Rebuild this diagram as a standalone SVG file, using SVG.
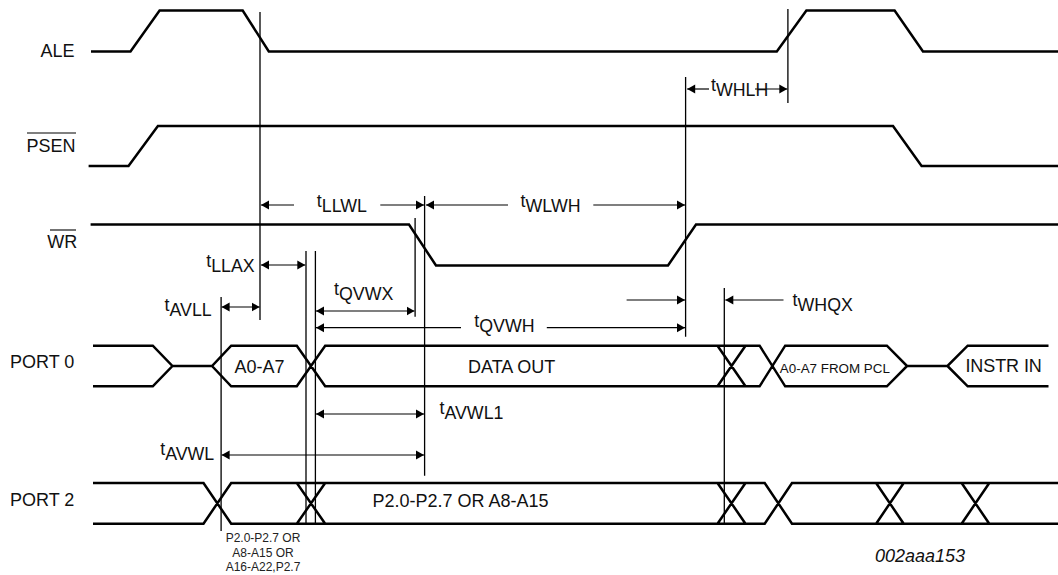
<svg xmlns="http://www.w3.org/2000/svg" width="1058" height="575" viewBox="0 0 1058 575">
<style>
text{font-family:"Liberation Sans",Arial,sans-serif;font-size:18px;fill:#111}
.t{font-size:17.800px}
.sig{fill:none;stroke:#000;stroke-width:2.500;stroke-linejoin:miter}
.v{stroke:#000;stroke-width:1.300;fill:none}
.a{stroke:#000;stroke-width:1.200;fill:none}
.ae{marker-end:url(#ah)}
.as{marker-start:url(#ahs)}
.o{stroke:#000;stroke-width:1.100}
.s{font-size:12px;fill:#222}
</style>
<defs>
<marker id="ah" markerUnits="userSpaceOnUse" markerWidth="9" markerHeight="10" refX="8" refY="5" orient="auto"><path d="M0 0.500L8 5L0 9.500z" fill="#000"/></marker>
<marker id="ahs" markerUnits="userSpaceOnUse" markerWidth="9" markerHeight="10" refX="0" refY="5" orient="auto"><path d="M8 0.500L0 5L8 9.500z" fill="#000"/></marker>
</defs>
<rect width="1058" height="575" fill="#fff"/>
<g id="sig-ale"><text x="40.600" y="56.500">ALE</text>
<path class="sig" d="M91 51.500H130.500L159.600 10.500H242.700L268.800 51.500H776.800L806.400 10.500H894.600L923 51.500H1058"/></g>
<g id="sig-psen"><text x="26.400" y="151.500">PSEN</text><path class="o" d="M27 133H76"/>
<path class="sig" d="M88.600 166H128.500L157.900 126H893L921.600 166H1058"/></g>
<g id="sig-wr"><text x="47.300" y="248">WR</text><path class="o" d="M50 230H76"/>
<path class="sig" d="M90.600 224.500H409L436 265.500H668L696 224.500H1058"/></g>
<g id="sig-port0"><text x="10" y="368.300">PORT 0</text>
<path class="sig" d="M93 345.700H152.800L172.400 366L152.800 386.300H93M172.400 366H212L231.200 345.700H296.800L325.200 386.300H759.600L785.200 345.700H886.900L907.100 366L886.900 386.300H785.200L759.600 345.700H325.200L296.800 386.300H231.200L212 366M907.100 366H947.500L967.700 345.700H1048.500M947.500 366L967.700 386.300H1048.500M717.500 345.700L745.500 386.300M717.500 386.300L745.500 345.700"/>
<text x="234.600" y="373">A0-A7</text><text x="468" y="372.700">DATA OUT</text><text x="779.800" y="372.700" style="font-size:13.400px">A0-A7 FROM PCL</text><text x="965.400" y="371.500" textLength="76.400" lengthAdjust="spacing">INSTR IN</text></g>
<g id="sig-port2"><text x="10" y="505.700">PORT 2</text>
<path class="sig" d="M93 483H203.500L231.200 523.700H764.700L792 483H1058M93 523.700H203.500L231.200 483H764.700L792 523.700H1058M296.800 483L325.200 523.700M296.800 523.700L325.200 483M717.500 483L745.500 523.700M717.500 523.700L745.500 483M876.100 483L903.700 523.700M876.100 523.700L903.700 483M961.600 483L989.300 523.700M961.600 523.700L989.300 483"/>
<text x="372.500" y="506.900">P2.0-P2.7 OR A8-A15</text>
<text class="s" x="263" y="542" text-anchor="middle">P2.0-P2.7 OR</text><text class="s" x="263" y="556.500" text-anchor="middle">A8-A15 OR</text><text class="s" x="263" y="571" text-anchor="middle">A16-A22,P2.7</text></g>
<g id="connectors">
<path class="v" d="M260 12V320M787.900 9V103M685.600 77V336.700M424.600 196V475.700M415.100 218V316.700M306 251V523M315.400 251V523M221.100 297V531M724.300 288V523"/>
<path class="a as" d="M261 205H294"/><path class="a ae" d="M380.300 205H424"/>
<path class="a as" d="M426 205H508"/><path class="a ae" d="M593.300 205H685"/>
<path class="a as" d="M687.200 89H709"/><path class="a ae" d="M755 89H787.300"/>
<path class="a as ae" d="M261 265H305.300"/>
<path class="a as ae" d="M221.600 307H259.600"/>
<path class="a as ae" d="M316 311H414.500"/>
<path class="a as" d="M316 327.700H461"/><path class="a ae" d="M546.800 327.700H685"/>
<path class="a ae" d="M626.600 300H685"/><path class="a as" d="M725.300 300H783.500"/>
<path class="a as ae" d="M316 414H424"/>
<path class="a as ae" d="M221.600 455H424"/>
</g>
<g id="labels">
<text class="t" x="316.800" y="207">t<tspan dy="5">LLWL</tspan></text>
<text class="t" x="520.600" y="207">t<tspan dy="5">WLWH</tspan></text>
<text class="t" x="711" y="90.700">t<tspan dy="5">WHLH</tspan></text>
<text class="t" x="206.200" y="266.700">t<tspan dy="5">LLAX</tspan></text>
<text class="t" x="164.600" y="311">t<tspan dy="5">AVLL</tspan></text>
<text class="t" x="334" y="295">t<tspan dy="5">QVWX</tspan></text>
<text class="t" x="474.300" y="326.700">t<tspan dy="5">QVWH</tspan></text>
<text class="t" x="792.600" y="305.700">t<tspan dy="5">WHQX</tspan></text>
<text class="t" x="439.500" y="414.300">t<tspan dy="5">AVWL1</tspan></text>
<text class="t" x="160.200" y="455">t<tspan dy="5">AVWL</tspan></text>
<text x="875" y="561.500" style="font-style:italic">002aaa153</text>
</g>
</svg>
